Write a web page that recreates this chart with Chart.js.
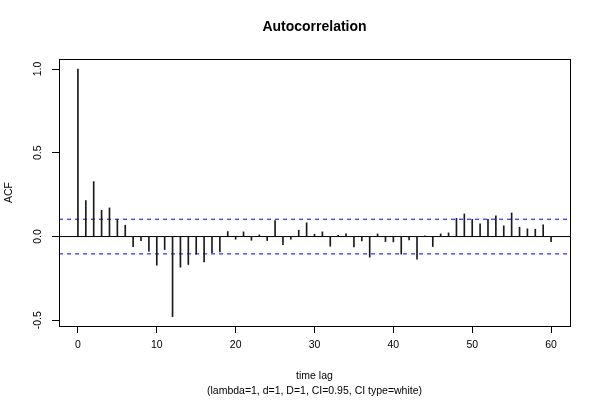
<!DOCTYPE html>
<html>
<head>
<meta charset="utf-8">
<script src="https://cdn.jsdelivr.net/npm/chart.js@4"></script>
<style>
  html, body { margin: 0; padding: 0; background: #fff; }
  #grafico { display: block; }
</style>
</head>
<body>
<canvas id="grafico" width="600" height="400"></canvas>
<script>
// lag 0..60 e valori ACF
const lags = [];
for (let i = 0; i <= 60; i++) lags.push(i);
const acf = [
  1.000, 0.215, 0.328, 0.157, 0.171, 0.101, 0.068, -0.060, -0.024, -0.088,
  -0.171, -0.078, -0.478, -0.183, -0.167, -0.105, -0.151, -0.096, -0.092, 0.030,
  -0.016, 0.028, -0.022, 0.010, -0.024, 0.096, -0.048, -0.016, 0.038, 0.082,
  0.014, 0.028, -0.058, 0.008, 0.016, -0.062, -0.026, -0.123, 0.016, -0.030,
  -0.032, -0.105, -0.020, -0.135, 0.004, -0.060, 0.016, 0.022, 0.109, 0.135,
  0.103, 0.076, 0.103, 0.123, 0.064, 0.141, 0.056, 0.046, 0.044, 0.070,
  -0.030
];
const ciLevel = 0.1035; // intervallo di confidenza (white noise)
const xRange = [-2.4, 62.4];
const yRange = [-0.534, 1.06];
const xTickStep = 10;
const yTickStep = 0.5;

const titolo = "Autocorrelation";
const etichettaY = "ACF";
const etichettaX = ["time lag", "(lambda=1, d=1, D=1, CI=0.95, CI type=white)"];

const font = "Liberation Sans, Arial, Helvetica, sans-serif";

// cornice + etichette asse y verticali (stile R)
const cornice = {
  id: "cornice",
  afterDatasetsDraw(chart) {
    const ctx = chart.ctx;
    const a = chart.chartArea;
    ctx.save();
    ctx.strokeStyle = "#000";
    ctx.lineWidth = 1;
    ctx.strokeRect(a.left + 0.5, a.top + 0.5, a.right - a.left, a.bottom - a.top);

    const y = chart.scales.y;
    ctx.fillStyle = "#000";
    ctx.font = "10.5px " + font;
    ctx.textAlign = "center";
    ctx.textBaseline = "middle";
    y.ticks.forEach(t => {
      ctx.save();
      ctx.translate(38, y.getPixelForValue(t.value));
      ctx.rotate(-Math.PI / 2);
      ctx.fillText(t.value.toFixed(1), 0, 0);
      ctx.restore();
    });
    ctx.restore();
  }
};

const linea = (yv, colore, dash) => ({
  type: "line",
  data: [{ x: xRange[0], y: yv }, { x: xRange[1], y: yv }],
  borderColor: colore,
  borderWidth: 1,
  borderDash: dash,
  pointRadius: 0,
  fill: false
});

const grafico = new Chart(document.getElementById("grafico"), {
  type: "bar",
  data: {
    datasets: [
      {
        type: "bar",
        data: lags.map((l, i) => ({ x: l, y: acf[i] })),
        backgroundColor: "#1a1a1a",
        barThickness: 1,
        borderWidth: 0
      },
      linea(0, "#000", []),
      linea(ciLevel, "#0000ff", [4, 4]),
      linea(-ciLevel, "#0000ff", [4, 4])
    ]
  },
  options: {
    responsive: false,
    animation: false,
    devicePixelRatio: 1,
    layout: { padding: { left: 0, right: 30, top: 0, bottom: 0 } },
    plugins: {
      legend: { display: false },
      tooltip: { enabled: false },
      title: {
        display: true,
        text: titolo,
        fullSize: false,
        color: "#000",
        font: { family: font, size: 14, weight: "bold" },
        padding: { top: 18.4, bottom: 23.8 }
      }
    },
    scales: {
      x: {
        type: "linear",
        min: xRange[0],
        max: xRange[1],
        offset: false,
        afterFit: s => { s.height = 74; },
        grid: { offset: false, drawOnChartArea: false, tickLength: 7, color: "#000" },
        border: { display: false },
        ticks: {
          stepSize: xTickStep,
          includeBounds: false,
          maxRotation: 0,
          color: "#000",
          padding: 6,
          font: { family: font, size: 10.5 }
        },
        title: {
          display: true,
          text: etichettaX,
          color: "#000",
          font: { family: font, size: 10.5, lineHeight: 1.45 },
          padding: { top: 0, bottom: 1 }
        }
      },
      y: {
        min: yRange[0],
        max: yRange[1],
        afterFit: s => { s.width = 59; },
        grid: { drawOnChartArea: false, tickLength: 7, color: "#000" },
        border: { display: false },
        ticks: { stepSize: yTickStep, includeBounds: false, display: false },
        title: {
          display: true,
          text: etichettaY,
          color: "#000",
          font: { family: font, size: 10.5 },
          padding: { top: 3, bottom: 0 }
        }
      }
    }
  },
  plugins: [cornice]
});
</script>
</body>
</html>
